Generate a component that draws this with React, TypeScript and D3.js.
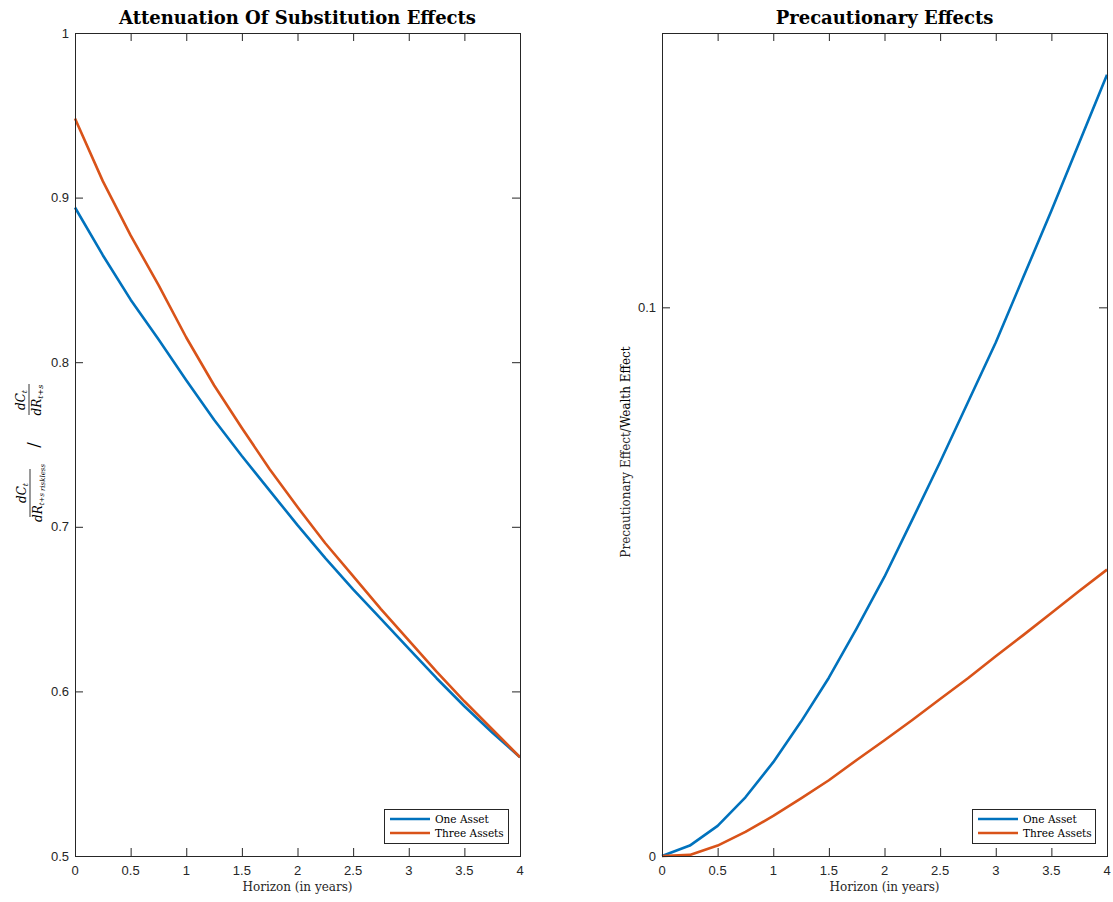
import React from "react";
import * as d3 from "d3";

const horizon = [0, 0.25, 0.5, 0.75, 1, 1.25, 1.5, 1.75, 2, 2.25, 2.5, 2.75, 3, 3.25, 3.5, 3.75, 4];
const attenOne = [0.894, 0.865, 0.838, 0.814, 0.789, 0.765, 0.743, 0.722, 0.701, 0.681, 0.662, 0.644, 0.626, 0.608, 0.591, 0.575, 0.56];
const attenThree = [0.948, 0.91, 0.877, 0.847, 0.815, 0.786, 0.76, 0.735, 0.712, 0.69, 0.67, 0.65, 0.631, 0.612, 0.594, 0.577, 0.56];
const precOne = [0, 0.0019, 0.0055, 0.0107, 0.0171, 0.0245, 0.0325, 0.0415, 0.0509, 0.0613, 0.0718, 0.0827, 0.0936, 0.1056, 0.1176, 0.13, 0.1424];
const precThree = [0, 0.0002, 0.0019, 0.0044, 0.0073, 0.0105, 0.0138, 0.0175, 0.0211, 0.0248, 0.0286, 0.0324, 0.0364, 0.0403, 0.0443, 0.0483, 0.0522];

const xTicks = [0, 0.5, 1, 1.5, 2, 2.5, 3, 3.5, 4];
const leftYTicks = [0.5, 0.6, 0.7, 0.8, 0.9, 1];
const rightYTicks = [0, 0.1];
const seriesNames = ["One Asset", "Three Assets"];
const colors = ["#0072BD", "#D95319"];

const AX = "#262626";
const SANS = "'Liberation Sans', Arial, Helvetica, sans-serif";
const SERIF = "'DejaVu Serif', 'Liberation Serif', serif";
const TICK = 8;

type PanelProps = {
  x0: number; x1: number; y0: number; y1: number;
  yDomain: [number, number];
  yTicks: number[];
  yFmt: (v: number) => string;
  series: number[][];
  title: string;
  legend: { x: number; y: number; w: number };
};

function Panel({ x0, x1, y0, y1, yDomain, yTicks, yFmt, series, title, legend }: PanelProps) {
  const x = d3.scaleLinear().domain([0, 4]).range([x0, x1]);
  const y = d3.scaleLinear().domain(yDomain).range([y1, y0]);
  const line = d3.line<number>().x((_, i) => x(horizon[i])).y((d) => y(d));
  return (
    <g>
      <rect x={x0} y={y0} width={x1 - x0} height={y1 - y0} fill="#fff" />
      {series.map((s, i) => (
        <path key={i} d={line(s) || ""} fill="none" stroke={colors[i]} strokeWidth={2.6} strokeLinejoin="round" />
      ))}
      <rect x={x0 + 0.5} y={y0 + 0.5} width={x1 - x0} height={y1 - y0} fill="none" stroke={AX} strokeWidth={1} />
      {xTicks.map((t) => (
        <g key={"x" + t}>
          <line x1={x(t) + 0.5} x2={x(t) + 0.5} y1={y1} y2={y1 - TICK} stroke={AX} />
          <line x1={x(t) + 0.5} x2={x(t) + 0.5} y1={y0} y2={y0 + TICK} stroke={AX} />
          <text x={x(t)} y={y1 + 19} textAnchor="middle" fontFamily={SANS} fontSize={13} fill={AX}>
            {String(t)}
          </text>
        </g>
      ))}
      {yTicks.map((t) => (
        <g key={"y" + t}>
          <line x1={x0} x2={x0 + TICK} y1={y(t) + 0.5} y2={y(t) + 0.5} stroke={AX} />
          <line x1={x1} x2={x1 - TICK} y1={y(t) + 0.5} y2={y(t) + 0.5} stroke={AX} />
          <text x={x0 - 6} y={y(t)} dy="0.35em" textAnchor="end" fontFamily={SANS} fontSize={13} fill={AX}>
            {yFmt(t)}
          </text>
        </g>
      ))}
      <text x={(x0 + x1) / 2} y={y0 - 9} textAnchor="middle" fontFamily={SERIF} fontWeight="bold" fontSize={18} fill="#000">
        {title}
      </text>
      <text x={(x0 + x1) / 2} y={y1 + 35} textAnchor="middle" fontFamily={SERIF} fontSize={12} fill={AX}>
        Horizon (in years)
      </text>
      <g>
        <rect x={legend.x + 0.5} y={legend.y + 0.5} width={legend.w} height={34} fill="#fff" stroke={AX} strokeWidth={1} />
        {seriesNames.map((n, i) => (
          <g key={n}>
            <line x1={legend.x + 6} x2={legend.x + 46} y1={legend.y + 10 + i * 14} y2={legend.y + 10 + i * 14} stroke={colors[i]} strokeWidth={2.6} />
            <text x={legend.x + 51} y={legend.y + 10 + i * 14} dy="0.35em" fontFamily={SERIF} fontSize={10.5} fill="#000">
              {n}
            </text>
          </g>
        ))}
      </g>
    </g>
  );
}

export default function App() {
  return (
    <svg width={1113} height={902} style={{ position: "absolute", left: 0, top: 0, background: "#fff" }}>
      <rect width={1113} height={902} fill="#fff" />
      <Panel
        x0={75} x1={520} y0={33} y1={856}
        yDomain={[0.5, 1]}
        yTicks={leftYTicks}
        yFmt={(v) => (v === 1 ? "1" : d3.format(".1f")(v))}
        series={[attenOne, attenThree]}
        title="Attenuation Of Substitution Effects"
        legend={{ x: 384, y: 809, w: 124 }}
      />
      <Panel
        x0={662} x1={1107} y0={33} y1={856}
        yDomain={[0, 0.15]}
        yTicks={rightYTicks}
        yFmt={(v) => (v === 0 ? "0" : String(v))}
        series={[precOne, precThree]}
        title="Precautionary Effects"
        legend={{ x: 972, y: 809, w: 123 }}
      />
      {/* left y label: fraction over fraction */}
      <g transform="translate(30,445) rotate(-90)" fontFamily={SERIF} fill="#000">
        <text x={-48} y={-4} textAnchor="middle" fontSize={12} fontStyle="italic">
          dC<tspan fontSize={8} dy={2}>t</tspan>
        </text>
        <line x1={-72} x2={-24} y1={0} y2={0} stroke="#000" strokeWidth={0.8} />
        <text x={-48} y={12} textAnchor="middle" fontSize={12} fontStyle="italic">
          dR<tspan fontSize={7} dy={2}>t+s</tspan>
          <tspan fontSize={7} dy={1} dx={2}>riskless</tspan>
        </text>
        <text x={0} y={9} textAnchor="middle" fontSize={16}>/</text>
        <text x={45} y={-5} textAnchor="middle" fontSize={12} fontStyle="italic">
          dC<tspan fontSize={8} dy={2}>t</tspan>
        </text>
        <line x1={30} x2={61} y1={-1} y2={-1} stroke="#000" strokeWidth={0.8} />
        <text x={45} y={11} textAnchor="middle" fontSize={12} fontStyle="italic">
          dR<tspan fontSize={8} dy={2}>t+s</tspan>
        </text>
      </g>
      <text transform="translate(630,452) rotate(-90)" textAnchor="middle" fontFamily={SERIF} fontSize={12} fill={AX}>
        Precautionary Effect/<tspan fill="#000">Wealth Effect</tspan>
      </text>
    </svg>
  );
}
